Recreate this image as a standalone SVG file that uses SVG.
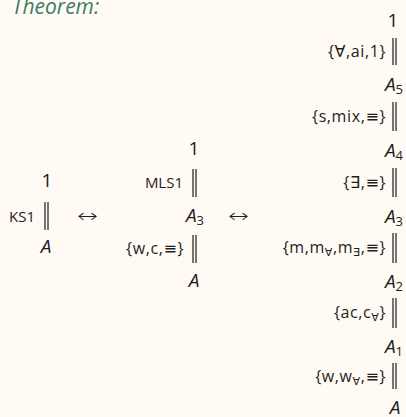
<svg xmlns="http://www.w3.org/2000/svg" width="406" height="417" viewBox="0 0 406 417">
<style>
.t{font-family:"Open Sans","DejaVu Sans",sans-serif;fill:#1e1e1e}
.m{font-size:19px;text-anchor:middle}
.i{font-style:italic}
.l{font-size:15px;text-anchor:end}
.set{font-size:16px;letter-spacing:0.6px}
.s{font-size:13px}
.ss{font-size:11px}
.ar{font-family:"DejaVu Sans",sans-serif;font-weight:200;font-size:18px;fill:#1e1e1e}
.bar{stroke:#1e1e1e;stroke-width:1.2;fill:none}
.th{font-family:"Open Sans","DejaVu Sans",sans-serif;font-style:italic;font-size:21px;fill:#3e7c67}
</style>
<rect width="406" height="417" fill="#fffaf3"/>
<text class="th" x="12" y="14">Theorem:</text>
<g id="left">
<text class="t m" x="47" y="187">1</text>
<text class="t l" x="35" y="222">KS1</text>
<text class="t m i" x="46" y="253">A</text>
</g>
<g id="middle">
<text class="t m" x="194" y="155">1</text>
<text class="t l" x="183" y="188">MLS1</text>
<text class="t m i" x="195" y="222">A<tspan class="s" font-style="normal" dy="3">3</tspan></text>
<text class="t l set" x="184" y="254">{w,c,≡}</text>
<text class="t m i" x="194" y="287">A</text>
</g>
<g id="right">
<text class="t m" x="393" y="27">1</text>
<text class="t l set" x="386" y="57">{∀,ai,1}</text>
<text class="t m i" x="394" y="91">A<tspan class="s" font-style="normal" dy="3">5</tspan></text>
<text class="t l set" x="386" y="122">{s,mix,≡}</text>
<text class="t m i" x="394" y="157">A<tspan class="s" font-style="normal" dy="3">4</tspan></text>
<text class="t l set" x="386" y="188">{∃,≡}</text>
<text class="t m i" x="394" y="223">A<tspan class="s" font-style="normal" dy="3">3</tspan></text>
<text class="t l set" x="386" y="253">{m,m<tspan class="ss" dy="3">∀</tspan><tspan dy="-3">,m</tspan><tspan class="ss" dy="3">∃</tspan><tspan dy="-3">,≡}</tspan></text>
<text class="t m i" x="394" y="288">A<tspan class="s" font-style="normal" dy="3">2</tspan></text>
<text class="t l set" x="386" y="318">{ac,c<tspan class="ss" dy="3">∀</tspan><tspan dy="-3">}</tspan></text>
<text class="t m i" x="394" y="353">A<tspan class="s" font-style="normal" dy="3">1</tspan></text>
<text class="t l set" x="386" y="382">{w,w<tspan class="ss" dy="3">∀</tspan><tspan dy="-3">,≡}</tspan></text>
<text class="t m i" x="395" y="414">A</text>
</g>
<g id="connectors">
<path class="bar" d="M45 202V230M48 202V230"/>
<path class="bar" d="M193 169V197M196 169V197M193 235V263M196 235V263"/>
<path class="bar" d="M393 38V65M396 38V65M393 102V131M396 102V131M393 168V197M396 168V197M393 233V263M396 233V263M393 298V328M396 298V328M393 363V389M396 363V389"/>
<text class="ar" x="77" y="222" textLength="21" lengthAdjust="spacingAndGlyphs">↔</text>
<text class="ar" x="228" y="222" textLength="21" lengthAdjust="spacingAndGlyphs">↔</text>
</g>
</svg>
